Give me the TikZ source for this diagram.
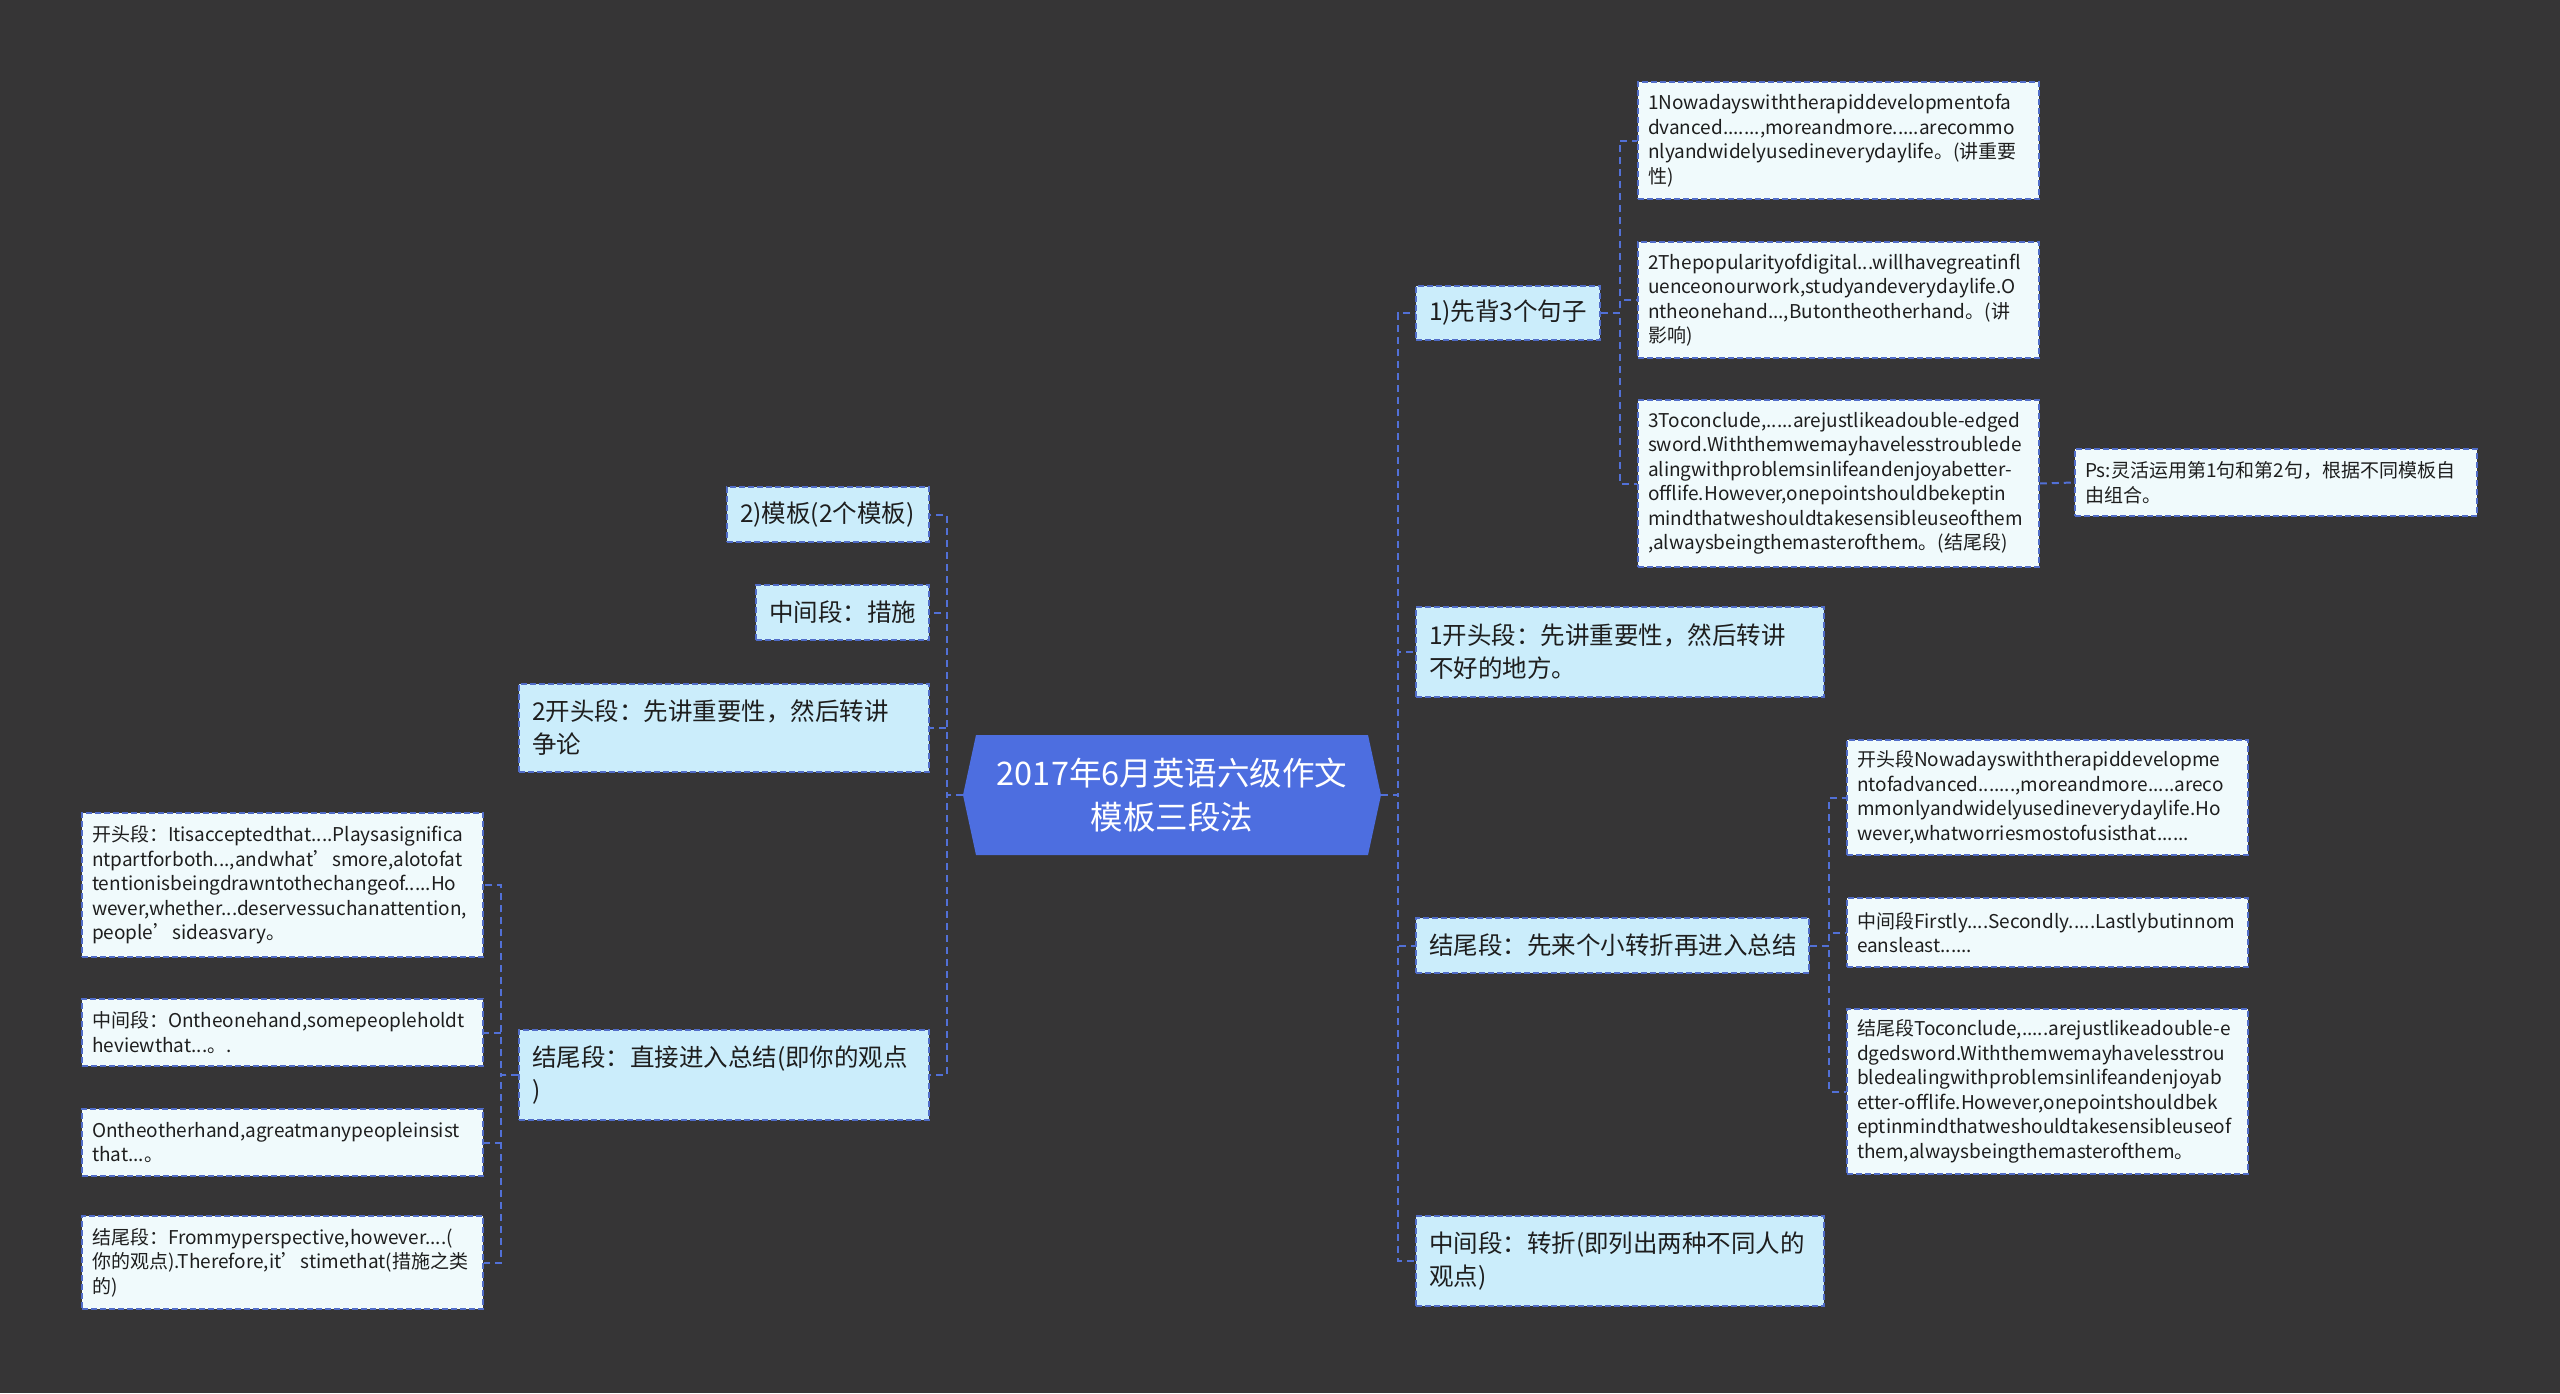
\documentclass[tikz,border=0pt]{standalone}
\usepackage{fontspec}
\setmainfont{Noto Sans CJK SC}
\definecolor{bgcol}{RGB}{54,53,54}
\definecolor{rootcol}{RGB}{77,110,224}
\definecolor{lvcol}{RGB}{203,237,251}
\definecolor{leafcol}{RGB}{240,250,252}
\definecolor{bordcol}{RGB}{80,108,200}
\definecolor{conncol}{RGB}{82,112,215}
\definecolor{txtcol}{RGB}{30,30,30}
\tikzset{
  boxbase/.style={rectangle, draw=bordcol, line width=1.5pt, dash pattern=on 6pt off 3pt, text=txtcol, align=left, inner ysep=0pt},
  lvbox/.style={boxbase, fill=lvcol, inner xsep=13pt, font=\fontsize{24.5}{33}\selectfont},
  leafbox/.style={boxbase, fill=leafcol, inner xsep=10pt, font=\fontsize{19}{24.5}\selectfont},
  rootbox/.style={rectangle, text=white, align=center, inner sep=0pt, font=\fontsize{32.5}{44}\selectfont},
  conn/.style={draw=conncol, line width=2pt, dash pattern=on 7pt off 5pt},
  bx/.style n args={3}{minimum width=#1pt, minimum height=#2pt, text width=#3pt},
}
\begin{document}
\begin{tikzpicture}[x=1pt,y=-1pt]
\fill[bgcol] (0,0) rectangle (2560,1393);
\useasboundingbox (0,0) rectangle (2560,1393);
% root hexagon
\fill[rootcol] (963,795) -- (976,735) -- (1368,735) -- (1381,795) -- (1368,855) -- (976,855) -- cycle;
\node[rootbox, minimum width=418pt, minimum height=120pt] (root) at (1172,795) {2017年6月英语六级作文\\模板三段法};

% right level 1
\node[lvbox, bx={184}{54}{158}] (r1) at (1508,313) {1)先背3个句子};
\node[lvbox, bx={408}{90}{382}] (r2) at (1620,652) {1开头段：先讲重要性，然后转讲\\不好的地方。};
\node[lvbox, bx={393}{55}{367}] (r3) at (1612.5,945.5) {结尾段：先来个小转折再进入总结};
\node[lvbox, bx={408}{90}{382}] (r4) at (1620,1261) {中间段：转折(即列出两种不同人的\\观点)};

% left level 1
\node[lvbox, bx={202}{55}{176}] (l1) at (828,514.5) {2)模板(2个模板)};
\node[lvbox, bx={173}{55}{147}] (l2) at (842.5,612.5) {中间段：措施};
\node[lvbox, bx={410}{88}{384}] (l3) at (724,728) {2开头段：先讲重要性，然后转讲\\争论};
\node[lvbox, bx={410}{90}{384}] (l4) at (724,1075) {结尾段：直接进入总结(即你的观点\\)};

% leaves of r1
\node[leafbox, bx={401}{117}{381}] (c1) at (1838.5,140.5) {1Nowadayswiththerapiddevelopmentofa\\dvanced.......,moreandmore.....arecommo\\nlyandwidelyusedineverydaylife。(讲重要\\性)};
\node[leafbox, bx={401}{116}{381}] (c2) at (1838.5,300) {2Thepopularityofdigital...willhavegreatinfl\\uenceonourwork,studyandeverydaylife.O\\ntheonehand...,Butontheotherhand。(讲\\影响)};
\node[leafbox, bx={401}{167}{381}] (c3) at (1838.5,483.5) {3Toconclude,.....arejustlikeadouble-edged\\sword.Withthemwemayhavelesstroublede\\alingwithproblemsinlifeandenjoyabetter-\\offlife.However,onepointshouldbekeptin\\mindthatweshouldtakesensibleuseofthem\\,alwaysbeingthemasterofthem。(结尾段)};
\node[leafbox, bx={402}{67}{382}] (ps) at (2276,482.5) {Ps:灵活运用第1句和第2句，根据不同模板自\\由组合。};

% leaves of r3
\node[leafbox, bx={401}{115}{381}] (d1) at (2047.5,797.5) {开头段Nowadayswiththerapiddevelopme\\ntofadvanced.......,moreandmore.....areco\\mmonlyandwidelyusedineverydaylife.Ho\\wever,whatworriesmostofusisthat......};
\node[leafbox, bx={401}{69}{381}] (d2) at (2047.5,932.5) {中间段Firstly....Secondly.....Lastlybutinnom\\eansleast......};
\node[leafbox, bx={401}{165}{381}] (d3) at (2047.5,1091.5) {结尾段Toconclude,.....arejustlikeadouble-e\\dgedsword.Withthemwemayhavelesstrou\\bledealingwithproblemsinlifeandenjoyab\\etter-offlife.However,onepointshouldbek\\eptinmindthatweshouldtakesensibleuseof\\them,alwaysbeingthemasterofthem。};

% leaves of l4
\node[leafbox, bx={401}{144}{381}] (e1) at (282.5,885) {开头段：Itisacceptedthat....Playsasignifica\\ntpartforboth...,andwhat’smore,alotofat\\tentionisbeingdrawntothechangeof.....Ho\\wever,whether...deservessuchanattention,\\people’sideasvary。};
\node[leafbox, bx={401}{67}{381}] (e2) at (282.5,1032.5) {中间段：Ontheonehand,somepeopleholdt\\heviewthat...。.};
\node[leafbox, bx={401}{67}{381}] (e3) at (282.5,1142.5) {Ontheotherhand,agreatmanypeopleinsist\\that...。};
\node[leafbox, bx={401}{93}{381}] (e4) at (282.5,1262.5) {结尾段：Frommyperspective,however....(\\你的观点).Therefore,it’stimethat(措施之类\\的)};

% junctions
\coordinate (jr) at (1398,795);
\coordinate (jl) at (947,795);
\coordinate (jc) at (1620,313);
\coordinate (jd) at (1829,945.5);
\coordinate (je) at (501,1075);

% connectors
\foreach \n in {r1,r2,r3,r4} \draw[conn] (root.east) -- (jr) |- (\n.west);
\foreach \n in {l1,l2,l3,l4} \draw[conn] (root.west) -- (jl) |- (\n.east);
\foreach \n in {c1,c2,c3} \draw[conn] (r1.east) -- (jc) |- (\n.west);
\draw[conn] (c3.east) -- (ps.west);
\foreach \n in {d1,d2,d3} \draw[conn] (r3.east) -- (jd) |- (\n.west);
\foreach \n in {e1,e2,e3,e4} \draw[conn] (l4.west) -- (je) |- (\n.east);
\end{tikzpicture}
\end{document}
